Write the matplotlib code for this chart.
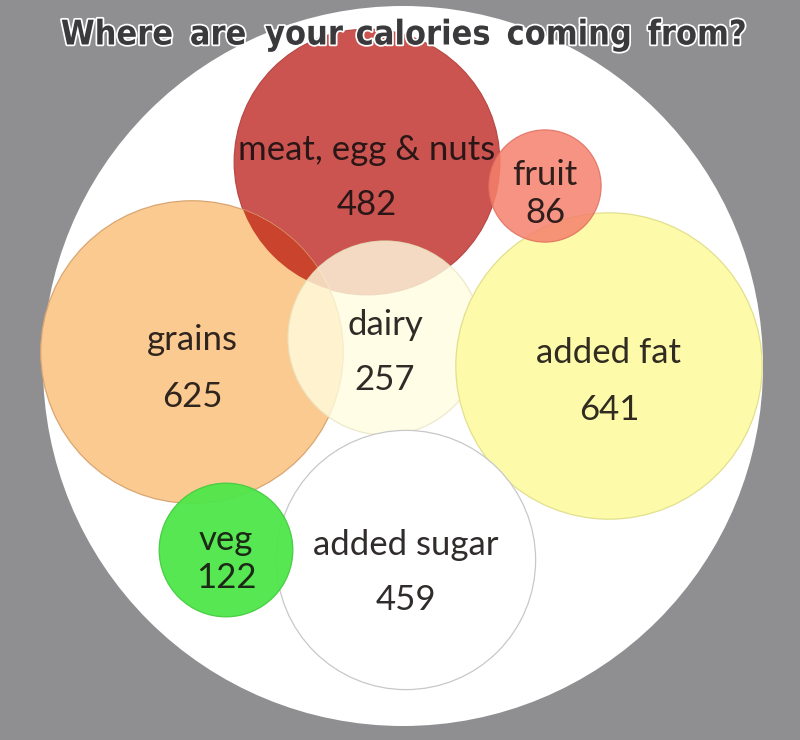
import numpy as np
import matplotlib
matplotlib.use("Agg")
import matplotlib.pyplot as plt
from matplotlib.patches import Circle
from matplotlib import patheffects as pe
from matplotlib.colors import to_rgb

# Daily calories by food group
categories = ["meat, egg & nuts", "grains", "dairy", "added fat", "fruit", "added sugar", "veg"]
calories = [482, 625, 257, 641, 86, 459, 122]
value_labels = ["482", "625", "257", "641", "86", "459", "122"]

# Bubble layout (pixel space, y down) and styling
centers = [(367, 162), (192, 352), (385, 338), (609, 366), (545, 186), (406, 560), (226, 550)]
fills = ["#cc5450", "#fbca90", "#fffde0", "#fdfba9", "#f5806c", "#ffffff", "#4ee64a"]
edges = ["#b84a45", "#d9a673", "#e8e4c0", "#e2e08e", "#e07060", "#c8c8c8", "#44cc40"]
alphas = [1.0, 1.0, 0.8, 1.0, 0.85, 1.0, 0.95]
zorders = [1, 2, 4, 5, 6, 7, 8]
name_offsets = [-12, -12, -13, -13, -11, -15, -10]
value_offsets = [43, 45, 42, 44, 27, 40, 28]

SCALE = 6.05  # pixels per sqrt(calorie)

W, H = 800, 740
fig = plt.figure(figsize=(W / 100, H / 100), dpi=100)
fig.patch.set_facecolor("#8f8e91")
ax = fig.add_axes([0, 0, 1, 1])
ax.set_xlim(0, W)
ax.set_ylim(H, 0)
ax.set_aspect("equal")
ax.axis("off")

# white plate behind the bubbles
ax.add_patch(Circle((403, 366), 360, facecolor="white", edgecolor="none", zorder=0))

radii = [SCALE * np.sqrt(v) for v in calories]
patches = []
for i, (c, r) in enumerate(zip(centers, radii)):
    p = Circle(c, r, facecolor=fills[i], edgecolor=edges[i], linewidth=0.9,
               alpha=alphas[i], zorder=zorders[i])
    ax.add_patch(p)
    patches.append(p)

# multiply-blended overlap of grains and meat
m = np.array(to_rgb(fills[0])) * np.array(to_rgb(fills[1]))
ov = Circle(centers[1], radii[1], facecolor=m, edgecolor="none", zorder=3)
ax.add_patch(ov)
ov.set_clip_path(patches[0])

font = ["Lato", "DejaVu Sans"]
for i, (c, name, val) in enumerate(zip(centers, categories, value_labels)):
    ax.text(c[0], c[1] + name_offsets[i], name, ha="center", va="center",
            fontsize=25, family=font, color="#140e0e", alpha=0.88, zorder=20)
    ax.text(c[0], c[1] + value_offsets[i], val, ha="center", va="center",
            fontsize=25, family=font, color="#140e0e", alpha=0.88, zorder=20)

# title
title_words = ["Where", "are", "your", "calories", "coming", "from?"]
word_x = [117, 218, 304, 423, 569, 697]
for w, x in zip(title_words, word_x):
    ax.text(x, 35, w, ha="center", va="center", fontsize=24.5, fontweight="bold",
            fontstretch="condensed", family=["DejaVu Sans"], color="#3a3a3c",
            zorder=30,
            path_effects=[pe.withStroke(linewidth=2.5, foreground="white")])

fig.savefig("out.png", dpi=100, facecolor=fig.get_facecolor())
